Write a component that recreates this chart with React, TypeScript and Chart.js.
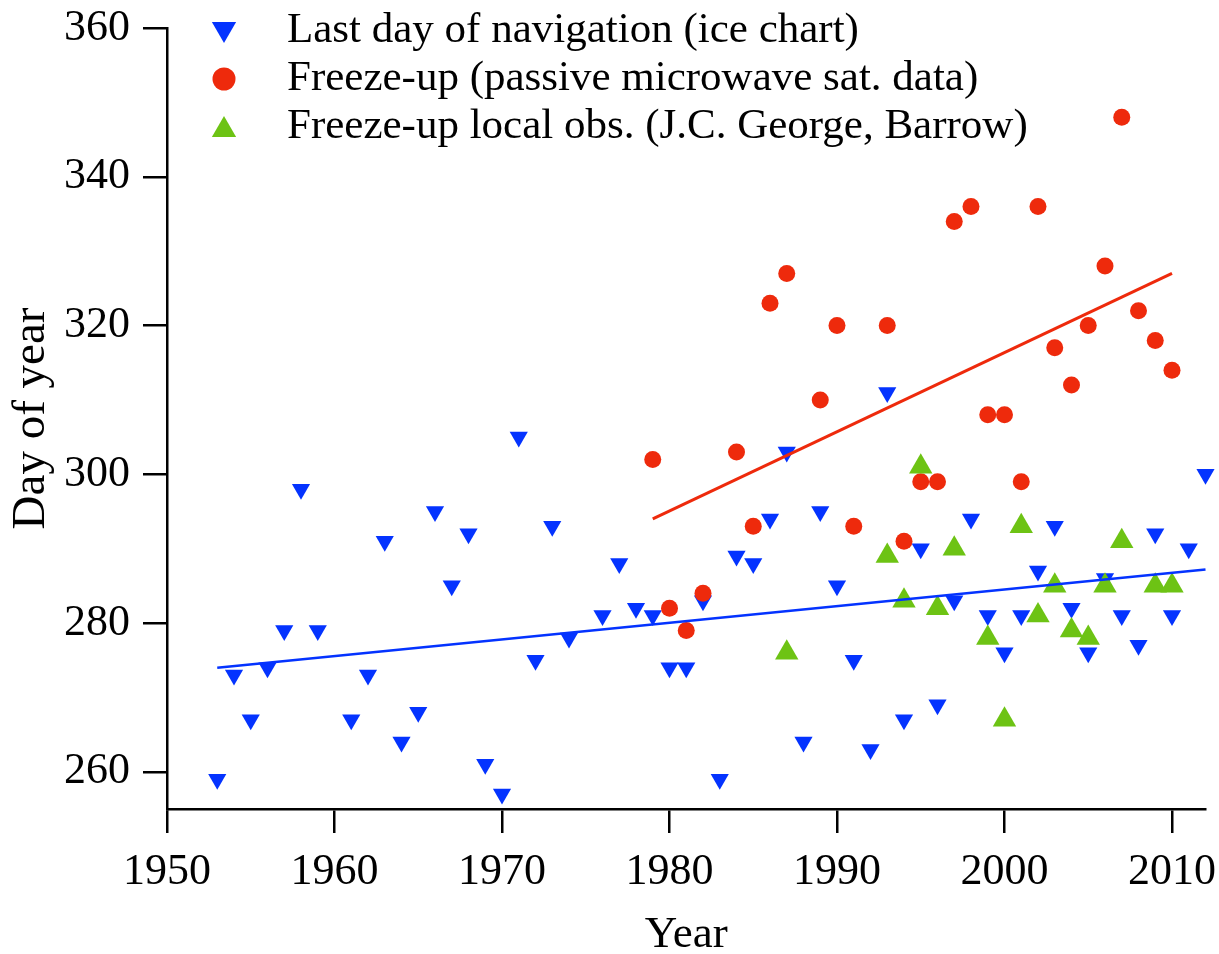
import React, { useEffect, useRef } from 'react';
import { Chart, registerables } from 'chart.js';

Chart.register(...registerables);

// ---- Data ----
const NAV_YEARS = [1953, 1954, 1955, 1956, 1957, 1958, 1959, 1961, 1962, 1963, 1964, 1965, 1966, 1967, 1968, 1969, 1970, 1971, 1972, 1973, 1974, 1976, 1977, 1978, 1979, 1980, 1981, 1982, 1983, 1984, 1985, 1986, 1987, 1988, 1989, 1990, 1991, 1992, 1993, 1994, 1995, 1996, 1997, 1998, 1999, 2000, 2001, 2002, 2003, 2004, 2005, 2006, 2007, 2008, 2009, 2010, 2011, 2012];
const NAV_DAYS = [259, 273, 267, 274, 279, 298, 279, 267, 273, 291, 264, 268, 295, 285, 292, 261, 257, 305, 275, 293, 278, 281, 288, 282, 281, 274, 274, 283, 259, 289, 288, 294, 303, 264, 295, 285, 275, 263, 311, 267, 290, 269, 283, 294, 281, 276, 281, 287, 293, 282, 276, 286, 281, 277, 292, 281, 290, 300];

const SAT_YEARS = [1979, 1980, 1981, 1982, 1984, 1985, 1986, 1987, 1989, 1990, 1991, 1993, 1994, 1995, 1996, 1997, 1998, 1999, 2000, 2001, 2002, 2003, 2004, 2005, 2006, 2007, 2008, 2009, 2010];
const SAT_DAYS = [302, 282, 279, 284, 303, 293, 323, 327, 310, 320, 293, 320, 291, 299, 299, 334, 336, 308, 308, 299, 336, 317, 312, 320, 328, 348, 322, 318, 314];

const LOCAL_YEARS = [1987, 1993, 1994, 1995, 1996, 1997, 1999, 2000, 2001, 2002, 2003, 2004, 2005, 2006, 2007, 2009, 2010];
const LOCAL_DAYS = [276, 289, 283, 301, 282, 290, 278, 267, 293, 281, 285, 279, 278, 285, 291, 285, 285];

const NAV_TREND_YEARS = [1953, 2012];
const NAV_TREND_DAYS = [274, 287.2];
const SAT_TREND_YEARS = [1979, 2010];
const SAT_TREND_DAYS = [294, 327];

const X_TICKS = [1950, 1960, 1970, 1980, 1990, 2000, 2010];
const Y_TICKS = [260, 280, 300, 320, 340, 360];

const LABEL_NAV = 'Last day of navigation (ice chart)';
const LABEL_SAT = 'Freeze-up (passive microwave sat. data)';
const LABEL_LOCAL = 'Freeze-up local obs. (J.C. George, Barrow)';

const BLUE = '#0433FF';
const RED = '#EE2A0C';
const GREEN = '#6DC314';
const FONT = '"Liberation Serif", "Times New Roman", serif';

const pts = (xs: number[], ys: number[]) => xs.map((x, i) => ({ x, y: ys[i] }));

function drawTri(ctx: CanvasRenderingContext2D, x: number, y: number, r: number, down: boolean) {
  const s = down ? -1 : 1;
  ctx.beginPath();
  ctx.moveTo(x, y - s * r);
  ctx.lineTo(x + Math.sin((2 * Math.PI) / 3) * r, y + s * r * 0.5);
  ctx.lineTo(x - Math.sin((2 * Math.PI) / 3) * r, y + s * r * 0.5);
  ctx.closePath();
  ctx.fill();
}

const legendPlugin = {
  id: 'customLegend',
  afterDraw(chart: any) {
    const ctx: CanvasRenderingContext2D = chart.ctx;
    const items = chart.data.datasets.filter((d: any) => d.inLegend);
    ctx.save();
    items.forEach((d: any, i: number) => {
      const y = 31 + i * 48;
      const x = 224;
      ctx.fillStyle = d.backgroundColor;
      if (d.pointStyle === 'circle') {
        ctx.beginPath();
        ctx.arc(x, y, 11.5, 0, Math.PI * 2);
        ctx.fill();
      } else {
        drawTri(ctx, x, y + (d.pointRotation === 180 ? -2 : 3), 14, d.pointRotation === 180);
      }
      ctx.fillStyle = '#000';
      ctx.font = `43px ${FONT}`;
      ctx.textBaseline = 'middle';
      ctx.textAlign = 'left';
      ctx.fillText(d.label, 287, y);
    });
    ctx.restore();
  },
};

export default function App() {
  const ref = useRef<HTMLCanvasElement>(null);

  useEffect(() => {
    const canvas = ref.current!;
    const chart = new Chart(canvas, {
      type: 'scatter',
      data: {
        datasets: [
          {
            label: 'nav trend',
            data: pts(NAV_TREND_YEARS, NAV_TREND_DAYS),
            showLine: true,
            borderColor: BLUE,
            borderWidth: 2.5,
            pointRadius: 0,
            order: 0,
            clip: false,
          } as any,
          {
            label: 'sat trend',
            data: pts(SAT_TREND_YEARS, SAT_TREND_DAYS),
            showLine: true,
            borderColor: RED,
            borderWidth: 3,
            pointRadius: 0,
            order: 0,
            clip: false,
          },
          {
            label: LABEL_NAV,
            inLegend: true,
            data: pts(NAV_YEARS, NAV_DAYS),
            pointStyle: 'triangle',
            pointRotation: 180,
            pointRadius: 10.5,
            backgroundColor: BLUE,
            borderWidth: 0,
            order: 3,
            clip: false,
          },
          {
            label: LABEL_SAT,
            inLegend: true,
            data: pts(SAT_YEARS, SAT_DAYS),
            pointStyle: 'circle',
            pointRadius: 8.5,
            backgroundColor: RED,
            borderWidth: 0,
            order: 2,
            clip: false,
          },
          {
            label: LABEL_LOCAL,
            inLegend: true,
            data: pts(LOCAL_YEARS, LOCAL_DAYS),
            pointStyle: 'triangle',
            pointRotation: 0,
            pointRadius: 13.5,
            backgroundColor: GREEN,
            borderWidth: 0,
            order: 1,
            clip: false,
          },
        ] as any,
      },
      options: {
        responsive: false,
        animation: false,
        devicePixelRatio: 1,
        events: [],
        layout: { padding: { top: 28, right: 13.5, left: 0, bottom: 0 } },
        plugins: { legend: { display: false }, tooltip: { enabled: false } },
        scales: {
          x: {
            type: 'linear',
            min: 1950,
            max: 2012,
            afterBuildTicks: (s: any) => {
              s.ticks = X_TICKS.map((v) => ({ value: v }));
            },
            afterFit: (s: any) => {
              s.height = 145;
              s.paddingLeft = 0;
              s.paddingRight = 0;
            },
            grid: { display: true, drawOnChartArea: false, drawTicks: true, tickLength: 24, color: '#000', lineWidth: 2.5 },
            border: { display: true, color: '#000', width: 2.5 },
            ticks: {
              color: '#000',
              padding: 13,
              autoSkip: false,
              maxRotation: 0,
              font: { family: FONT, size: 44, lineHeight: 1.2 },
              callback: (v: any) => String(v),
            },
            title: {
              display: true,
              text: 'Year',
              color: '#000',
              font: { family: FONT, size: 45, lineHeight: 0.85 },
              padding: 0,
            },
          },
          y: {
            type: 'linear',
            min: 255,
            max: 360,
            afterBuildTicks: (s: any) => {
              s.ticks = Y_TICKS.map((v) => ({ value: v }));
            },
            afterFit: (s: any) => {
              s.width = 167;
              s.paddingTop = 0;
              s.paddingBottom = 0;
            },
            grid: { display: true, drawOnChartArea: false, drawTicks: true, tickLength: 24, color: '#000', lineWidth: 2.5 },
            border: { display: true, color: '#000', width: 2.5 },
            ticks: {
              color: '#000',
              padding: 13,
              autoSkip: false,
              font: { family: FONT, size: 44, lineHeight: 1.2 },
              callback: (v: any) => String(v),
            },
            title: {
              display: true,
              text: 'Day of year',
              color: '#000',
              font: { family: FONT, size: 47, lineHeight: 1.2 },
              padding: { top: 3, bottom: 0 },
            },
          },
        },
      } as any,
      plugins: [legendPlugin],
    });
    return () => chart.destroy();
  }, []);

  return (
    <div style={{ position: 'absolute', left: 0, top: 0, width: 1219, height: 954, background: '#fff' }}>
      <canvas ref={ref} width={1219} height={954} style={{ display: 'block' }} />
    </div>
  );
}
